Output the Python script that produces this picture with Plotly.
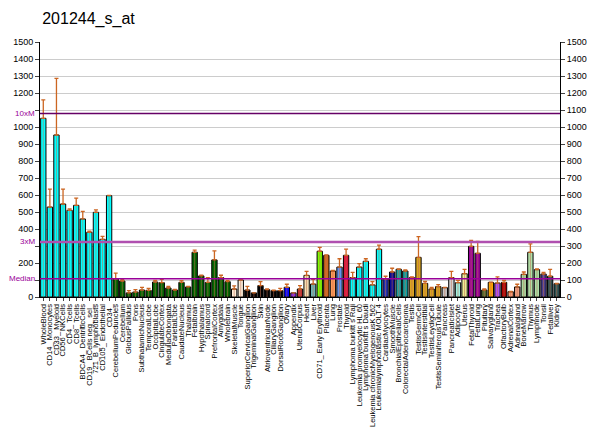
#!/usr/bin/env python3
"""
Expression profile for probe 201244_s_at across tissues (bar chart with median lines)
"""

import plotly.graph_objects as go

title = "201244_s_at"

tissues = [
    "WholeBlood", "CD14_ Monocytes", "CD33_ Myeloid", "CD56_ NKCells", "CD4_ Tcells",
    "CD8_ Tcells", "BDCA4_ DentriticCells", "CD19_ BCells neg_ sel_", "721_B_lymphoblasts",
    "CD105_ Endothelial", "CD34_", "CerebellumPeduncles", "Cerebellum", "GlobusPallidus",
    "Pons", "SubthalamicNucleus", "TemporalLobe", "OccipitalLobe", "CingulateCortex",
    "MedullaOblongata", "ParietalLobe", "CaudateNucleus", "Thalamus", "Fetalbrain",
    "Hypothalamus", "Spinalcord", "PrefrontalCortex", "Amygdala", "Wholebrain",
    "SkeletalMuscle", "Tongue", "SuperiorCervicalGanglion", "TrigeminalGanglion", "Skin",
    "AtrioventricularNode", "CiliaryGanglion", "DorsalRootGanglion", "Ovary", "Appendix",
    "UterusCorpus", "Heart", "Liver", "CD71_ Early Erythroid", "Placenta", "Lung",
    "Prostate", "Thyroid", "Lymphoma burkitt s Raji", "Leukemia promyelocytic HL 60",
    "Lymphoma burkitt s Daudi", "Leukemia chronicMyelogenousK 562",
    "Leukemialymphoblastic MOLT 4", "CardiacMyocytes", "SmoothMuscle",
    "BronchialEpithelialCells", "ColorectalAdenocarcinoma", "Testis", "TestisGermCell",
    "TestisInterstitial", "TestisLeydigCell", "TestisSeminiferousTubule", "Pancreas",
    "PancreaticIslet", "Adipocyte", "Uterus", "FetalThyroid", "FetalLung", "Pituitary",
    "Salivarygland", "Trachea", "OlfactoryBulb", "AdrenalCortex", "Adrenalgland",
    "BoneMarrow", "Thymus", "Lymphnode", "Tonsil", "Fetalliver", "Kidney",
]

values = [
    1051, 529, 953, 547, 510, 539, 459, 381, 498, 339, 596,
    106, 94, 24, 29, 41, 39, 88, 84, 53, 41, 86, 59, 263, 124, 86, 218, 114, 90,
    47, 100, 41, 24, 67, 43, 37, 37, 57, 24, 47, 127, 76, 269, 245, 153, 176, 245,
    114, 176, 210, 71, 281, 106, 147, 163, 153, 114, 233, 80, 47, 61, 55, 114, 84,
    137, 298, 257, 41, 86, 82, 86, 31, 59, 133, 263, 161, 135, 122, 78,
]

errors = [
    108, 106, 333, 88, 8, 43, 45, 7, 14, 18, 2,
    35, 8, 13, 14, 16, 12, 10, 20, 10, 4, 10, 4, 13, 4, 28, 53, 14, 7,
    18, 2, 22, 0, 23, 4, 4, 14, 18, 0, 20, 24, 28, 23, 2, 4, 49, 37,
    31, 20, 15, 19, 24, 16, 22, 2, 6, 4, 122, 12, 10, 12, 2, 37, 14,
    26, 35, 70, 6, 2, 36, 12, 2, 16, 14, 49, 4, 10, 41, 2,
]

colors = (
    ["#00ffff"] * 11
    + ["#006400"] * 18
    + ["#fff0dc", "#faebd7"]
    + ["#000000"] * 6
    + ["#0000ff", "#8a2be2", "#c03030", "#f5deb3", "#6ab4b8", "#7cfc00",
       "#d2691e", "#ff9a57", "#6495ed", "#dc143c"]
    + ["#00ffff"] * 5
    + ["#2030b0", "#0a0a90", "#20a0a0", "#10a0a0"]
    + ["#daa520"] * 5
    + ["#c8c8c8", "#d3d3d3", "#a0f0e0", "#eeee99", "#990099", "#990099",
       "#556b2f", "#ffa500", "#b050f0", "#aa0000", "#ffa07a", "#f0a080",
       "#a8d8a0", "#b0e0a8", "#a8e0a8", "#483d8b", "#2f4f4f", "#2f5555"]
)

median = 108
ref_lines = [("10xM", median * 10, "#660066", 1.5),
             ("3xM", median * 3, "#b050b0", 2.5),
             ("Median", median, "#990099", 1.5)]

y_ticks = list(range(0, 1600, 100))

fig = go.Figure()

# bars with upward error whiskers
fig.add_trace(go.Bar(
    x=tissues, y=values,
    marker=dict(color=colors, line=dict(color="black", width=1)),
    error_y=dict(type="data", array=errors, arrayminus=[0] * len(values),
                 symmetric=False, color="#cc6622", thickness=1.3, width=2),
    showlegend=False,
))

# faint line running down through each bar
fig.add_trace(go.Scatter(
    x=tissues, y=values, mode="markers", marker=dict(size=1, opacity=0),
    error_y=dict(type="data", array=[0] * len(values), arrayminus=values,
                 symmetric=False, color="rgba(190,110,80,0.55)", thickness=1, width=0),
    showlegend=False, hoverinfo="skip",
))

# dummy trace so the right axis is drawn
fig.add_trace(go.Scatter(x=[tissues[0]], y=[0], yaxis="y2", mode="markers",
                         marker=dict(opacity=0), showlegend=False, hoverinfo="skip"))

for name, yv, col, w in ref_lines:
    fig.add_shape(type="line", xref="paper", x0=0, x1=1, yref="y", y0=yv, y1=yv,
                  line=dict(color=col, width=w))
    fig.add_annotation(xref="paper", x=0, yref="y", y=yv, text=name, showarrow=False,
                       xanchor="right", xshift=-4, borderpad=0,
                       font=dict(size=8, color="#990099"))

left_text = ["" if v in (100, 300, 1100) else str(v) for v in y_ticks]

# page body adds an 8px offset, margins account for it
fig.update_layout(
    title=dict(text=title, x=0.057, xanchor="left", y=0.977, yanchor="middle",
               font=dict(size=16, color="black", family="Liberation Sans, Arial")),
    width=600, height=434,
    margin=dict(l=32, r=48, t=34, b=145),
    paper_bgcolor="white", plot_bgcolor="white",
    bargap=0.19,
    font=dict(family="Liberation Sans, Arial", color="black"),
    xaxis=dict(tickmode="array", tickvals=tissues, ticktext=tissues, automargin=False,
               tickangle=-90, tickfont=dict(size=7.5), ticks="outside", ticklen=3,
               showline=True, linecolor="black", linewidth=1, showgrid=False,
               range=[-0.5, len(tissues) - 0.5]),
    yaxis=dict(range=[0, 1500], tickvals=y_ticks, ticktext=left_text, ticks="outside",
               ticklen=4, showline=True, linecolor="black", linewidth=1, automargin=False,
               showgrid=True, gridcolor="#cccccc", gridwidth=1, tickfont=dict(size=9),
               zeroline=False),
    yaxis2=dict(range=[0, 1500], tickvals=y_ticks, overlaying="y", side="right",
                ticks="outside", ticklen=4, showline=True, linecolor="black",
                automargin=False,
                linewidth=1, showgrid=False, tickfont=dict(size=9), zeroline=False),
)

fig.write_html("out.html")
